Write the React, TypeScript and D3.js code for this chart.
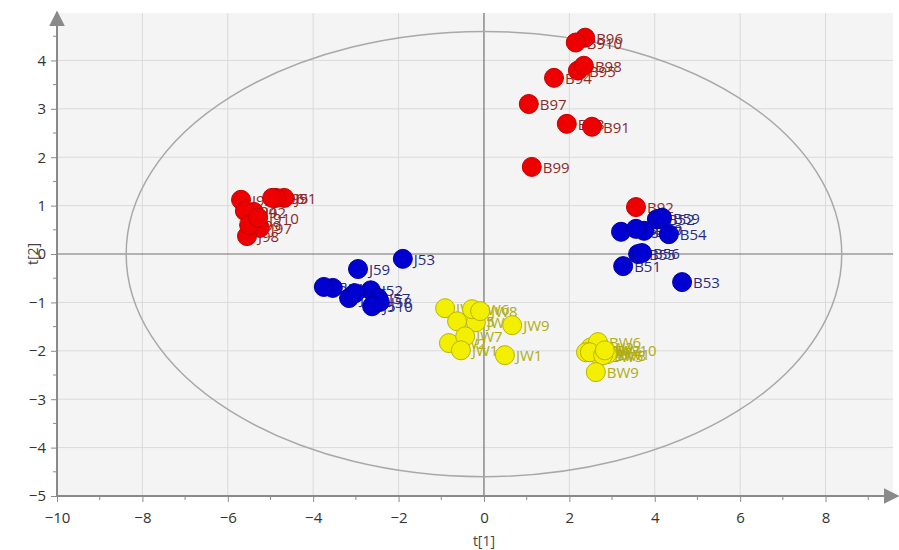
import React, { useEffect, useRef } from 'react'
import * as d3 from 'd3'

// score values: [t1, t2]
const b9Names = ['B91', 'B92', 'B93', 'B94', 'B95', 'B96', 'B97', 'B98', 'B99', 'B910']
const b9Values = [[2.53, 2.63], [3.56, 0.97], [1.94, 2.69], [1.64, 3.64], [2.2, 3.79], [2.37, 4.47], [1.05, 3.1], [2.34, 3.89], [1.12, 1.8], [2.15, 4.37]]

const j9Names = ['J91', 'J92', 'J93', 'J94', 'J95', 'J96', 'J97', 'J98', 'J99', 'J910']
const j9Values = [[-4.68, 1.16], [-5.39, 0.87], [-5.69, 1.12], [-5.6, 0.89], [-4.87, 1.16], [-4.96, 1.16], [-5.25, 0.54], [-5.55, 0.37], [-5.5, 0.6], [-5.29, 0.75]]

const b5Names = ['B51', 'B52', 'B53', 'B54', 'B55', 'B56', 'B57', 'B58', 'B59', 'B510']
const b5Values = [[3.26, -0.25], [4.05, 0.72], [4.64, -0.58], [4.33, 0.41], [3.61, 0.0], [3.7, 0.02], [3.75, 0.48], [3.21, 0.46], [4.17, 0.75], [3.56, 0.52]]

const j5Names = ['J51', 'J52', 'J53', 'J54', 'J55', 'J56', 'J57', 'J58', 'J59', 'J510']
const j5Values = [[-3.54, -0.7], [-2.65, -0.75], [-1.9, -0.1], [-3.75, -0.68], [-3.16, -0.91], [-3.02, -0.81], [-2.48, -0.91], [-2.44, -0.99], [-2.95, -0.31], [-2.62, -1.08]]

const jwNames = ['JW1', 'JW2', 'JW3', 'JW4', 'JW5', 'JW6', 'JW7', 'JW8', 'JW9', 'JW10']
const jwValues = [[0.49, -2.09], [-0.82, -1.84], [-0.19, -1.41], [-0.91, -1.12], [-0.63, -1.39], [-0.28, -1.14], [-0.44, -1.7], [-0.09, -1.18], [0.66, -1.47], [-0.54, -1.99]]

const bwNames = ['BW1', 'BW2', 'BW3', 'BW4', 'BW5', 'BW6', 'BW7', 'BW8', 'BW9', 'BW10']
const bwValues = [[2.88, -2.07], [2.5, -1.93], [2.67, -1.99], [2.39, -2.03], [2.72, -2.11], [2.67, -1.82], [2.48, -2.03], [2.79, -2.09], [2.62, -2.44], [2.83, -1.99]]

const xTicks = [-10, -8, -6, -4, -2, 0, 2, 4, 6, 8]
const yTicks = [-5, -4, -3, -2, -1, 0, 1, 2, 3, 4]

// Hotelling T2 ellipse half-axes
const ellipseT1 = 8.38
const ellipseT2 = 4.6

const groups = [
  { names: j9Names, values: j9Values, fill: '#ee0000', stroke: '#c00000', text: '#8c2a2a' },
  { names: b9Names, values: b9Values, fill: '#ee0000', stroke: '#c00000', text: '#8c2a2a' },
  { names: j5Names, values: j5Values, fill: '#0000d0', stroke: '#0000a0', text: '#2a2a80' },
  { names: b5Names, values: b5Values, fill: '#0000d0', stroke: '#0000a0', text: '#2a2a80' },
  { names: jwNames, values: jwValues, fill: '#f2f000', stroke: '#b8b400', text: '#b0ad10' },
  { names: bwNames, values: bwValues, fill: '#f2f000', stroke: '#b8b400', text: '#b0ad10' },
]

export default function App() {
  const svgRef = useRef<SVGSVGElement>(null)

  useEffect(() => {
    const width = 899
    const height = 550
    const left = 57, right = 893, top = 13, bottom = 496

    const svg = d3.select(svgRef.current)
    svg.selectAll('*').remove()
    svg.attr('width', width).attr('height', height)

    const x = d3.scaleLinear().domain([-10, 9.58]).range([left, right])
    const y = d3.scaleLinear().domain([-5, 4.98]).range([bottom, top])

    svg.append('rect')
      .attr('x', left).attr('y', top)
      .attr('width', right - left).attr('height', bottom - top)
      .attr('fill', '#f4f4f4')

    // grid
    const grid = svg.append('g')
    grid.selectAll('.gx').data(xTicks.filter(d => d !== -10 && d !== 0)).join('line')
      .attr('x1', d => x(d)).attr('x2', d => x(d))
      .attr('y1', top).attr('y2', bottom)
      .attr('stroke', '#dadada').attr('stroke-width', 1)
    grid.selectAll('.gy').data(yTicks.filter(d => d !== -5 && d !== 0)).join('line')
      .attr('x1', left).attr('x2', right)
      .attr('y1', d => y(d)).attr('y2', d => y(d))
      .attr('stroke', '#dadada').attr('stroke-width', 1)

    // zero lines
    svg.append('line')
      .attr('x1', x(0)).attr('x2', x(0)).attr('y1', top).attr('y2', bottom)
      .attr('stroke', '#707070').attr('stroke-width', 1.2)
    svg.append('line')
      .attr('x1', left).attr('x2', right).attr('y1', y(0)).attr('y2', y(0))
      .attr('stroke', '#707070').attr('stroke-width', 1.2)

    // ellipse
    svg.append('ellipse')
      .attr('cx', x(0)).attr('cy', y(0))
      .attr('rx', x(ellipseT1) - x(0)).attr('ry', y(0) - y(ellipseT2))
      .attr('fill', 'none').attr('stroke', '#a8a8a8').attr('stroke-width', 1.5)

    // axes
    const font = '"Open Sans", "Noto Sans", sans-serif'
    const xAxis = svg.append('g')
      .attr('transform', `translate(0, ${bottom})`)
      .call(d3.axisBottom(x).tickValues(xTicks).tickSize(6).tickPadding(10).tickFormat(d3.format('d')))
    const yAxis = svg.append('g')
      .attr('transform', `translate(${left}, 0)`)
      .call(d3.axisLeft(y).tickValues(yTicks).tickSize(6).tickPadding(5).tickFormat(d3.format('d')))
    for (const ax of [xAxis, yAxis]) {
      ax.select('.domain').remove()
      ax.selectAll('line').attr('stroke', '#8a8a8a')
      ax.selectAll('text').attr('fill', '#333').style('font-family', font).style('font-size', '15px')
    }
    // minor ticks
    svg.append('g').selectAll('line').data(d3.range(-9, 10, 2)).join('line')
      .attr('x1', d => x(d)).attr('x2', d => x(d))
      .attr('y1', bottom).attr('y2', bottom + 4)
      .attr('stroke', '#8a8a8a')
    svg.append('g').selectAll('line').data(d3.range(-4.5, 5, 1)).join('line')
      .attr('x1', left - 4).attr('x2', left)
      .attr('y1', d => y(d)).attr('y2', d => y(d))
      .attr('stroke', '#8a8a8a')

    // axis lines with arrows
    const defs = svg.append('defs')
    defs.append('marker')
      .attr('id', 'arrow').attr('viewBox', '0 0 10 10')
      .attr('refX', 9).attr('refY', 5)
      .attr('markerWidth', 8).attr('markerHeight', 8)
      .attr('orient', 'auto')
      .append('path').attr('d', 'M0,0L10,5L0,10Z').attr('fill', '#8a8a8a')
    svg.append('line')
      .attr('x1', left).attr('x2', right + 5).attr('y1', bottom).attr('y2', bottom)
      .attr('stroke', '#8a8a8a').attr('stroke-width', 2).attr('marker-end', 'url(#arrow)')
    svg.append('line')
      .attr('x1', left).attr('x2', left).attr('y1', bottom).attr('y2', top - 1)
      .attr('stroke', '#8a8a8a').attr('stroke-width', 2).attr('marker-end', 'url(#arrow)')

    // axis titles
    svg.append('text')
      .attr('x', x(0)).attr('y', 546)
      .attr('text-anchor', 'middle')
      .style('font-family', font).style('font-size', '14px').attr('fill', '#444')
      .text('t[1]')
    svg.append('text')
      .attr('transform', `translate(38, ${y(0)}) rotate(-90)`)
      .attr('text-anchor', 'middle')
      .style('font-family', font).style('font-size', '14px').attr('fill', '#444')
      .text('t[2]')

    const rows = groups.flatMap(g => g.values.map((v, i) => ({ name: g.names[i], t1: v[0], t2: v[1], g })))

    // labels sit under the markers
    svg.append('g').selectAll('text').data(rows).join('text')
      .attr('x', d => x(d.t1) + 11).attr('y', d => y(d.t2) + 6)
      .style('font-family', font).style('font-size', '15px')
      .attr('fill', d => d.g.text)
      .text(d => d.name)

    svg.append('g').selectAll('circle').data(rows).join('circle')
      .attr('cx', d => x(d.t1)).attr('cy', d => y(d.t2))
      .attr('r', 9.5)
      .attr('fill', d => d.g.fill).attr('stroke', d => d.g.stroke).attr('stroke-width', 1)
  }, [])

  return (
    <svg ref={svgRef} style={{ position: 'absolute', left: 0, top: 0, background: '#fff' }}></svg>
  )
}
